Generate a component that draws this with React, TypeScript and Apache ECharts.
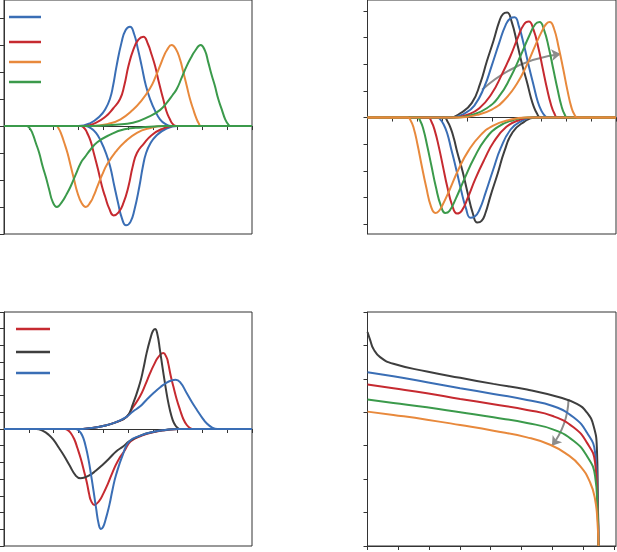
import React, { useEffect, useRef } from "react";
import * as echarts from "echarts";

// ---- colours ----
const BLUE = "#3a6eb5";
const RED = "#c62a30";
const ORANGE = "#e8893c";
const GREEN = "#3b9a4b";
const DARK = "#3e3e3e";
const ARROW = "#8c8c8c";
const AXIS = "#333333";

// ---- panel A (top-left): [x, y] pairs, upper and lower branches ----
const aBlueUp = [[0,0],[3.0,0],[3.5,0.12],[3.87,0.37],[4.1,0.65],[4.27,1.0],[4.4,1.5],[4.54,2.23],[4.74,3.1],[4.9,3.55],[5.08,3.68],[5.25,3.4],[5.4,2.85],[5.55,2.23],[5.72,1.5],[5.89,1.0],[6.1,0.55],[6.29,0.25],[6.5,0.08],[6.75,0],[10,0]];
const aBlueDown = [[0,0],[3.25,0],[3.5,-0.08],[3.71,-0.25],[3.9,-0.55],[4.11,-1.0],[4.28,-1.5],[4.45,-2.23],[4.6,-2.85],[4.75,-3.4],[4.92,-3.68],[5.1,-3.55],[5.26,-3.1],[5.46,-2.23],[5.6,-1.5],[5.73,-1.0],[5.9,-0.65],[6.13,-0.37],[6.5,-0.12],[7.0,0],[10,0]];
const aRedUp = [[0,0],[3.2,0],[3.7,0.12],[4.1,0.35],[4.4,0.65],[4.68,1.0],[4.85,1.5],[5.02,2.23],[5.22,2.84],[5.42,3.2],[5.62,3.31],[5.8,3.05],[5.95,2.65],[6.09,2.23],[6.25,1.6],[6.42,1.0],[6.55,0.55],[6.69,0.25],[6.8,0.08],[6.95,0],[10,0]];
const aRedDown = [[0,0],[3.09,0],[3.24,-0.08],[3.35,-0.25],[3.49,-0.55],[3.62,-1.0],[3.79,-1.6],[3.95,-2.23],[4.09,-2.65],[4.24,-3.05],[4.42,-3.31],[4.62,-3.2],[4.82,-2.84],[5.02,-2.23],[5.19,-1.5],[5.36,-1.0],[5.64,-0.65],[5.94,-0.35],[6.34,-0.12],[6.84,0],[10,0]];
const aOrangeUp = [[0,0],[3.6,0],[4.2,0.08],[4.7,0.25],[5.2,0.6],[5.55,0.95],[5.89,1.4],[6.1,1.8],[6.29,2.23],[6.45,2.6],[6.56,2.8],[6.76,3.0],[6.93,2.85],[7.1,2.46],[7.23,2.0],[7.37,1.48],[7.5,1.0],[7.63,0.62],[7.75,0.3],[7.85,0.1],[7.95,0],[10,0]];
const aOrangeDown = [[0,0],[2.11,0],[2.21,-0.1],[2.31,-0.3],[2.43,-0.62],[2.56,-1.0],[2.69,-1.48],[2.83,-2.0],[2.96,-2.46],[3.13,-2.85],[3.3,-3.0],[3.5,-2.8],[3.61,-2.6],[3.77,-2.23],[3.96,-1.8],[4.17,-1.4],[4.51,-0.95],[4.86,-0.6],[5.36,-0.25],[5.86,-0.08],[6.46,0],[10,0]];
const aGreenUp = [[0,0],[3.5,0],[4.5,0.05],[5.2,0.12],[5.89,0.37],[6.3,0.6],[6.56,0.86],[6.8,1.15],[6.96,1.36],[7.17,1.8],[7.37,2.23],[7.55,2.55],[7.7,2.78],[7.93,3.0],[8.1,2.8],[8.24,2.35],[8.37,1.9],[8.5,1.5],[8.64,1.0],[8.78,0.62],[8.92,0.25],[9.05,0.05],[9.15,0],[10,0]];
const aGreenDown = [[0,0],[0.91,0],[1.01,-0.05],[1.14,-0.25],[1.28,-0.62],[1.42,-1.0],[1.56,-1.5],[1.69,-1.9],[1.82,-2.35],[1.96,-2.8],[2.13,-3.0],[2.36,-2.78],[2.51,-2.55],[2.69,-2.23],[2.89,-1.8],[3.1,-1.36],[3.26,-1.15],[3.5,-0.86],[3.76,-0.6],[4.17,-0.37],[4.86,-0.12],[5.56,-0.05],[6.56,0],[10,0]];

// ---- panel B (top-right) ----
const bDarkUp = [[0,0],[3.3,0],[3.75,0.17],[4.2,0.55],[4.54,1.29],[4.8,2.1],[5.08,2.91],[5.3,3.6],[5.45,3.88],[5.62,3.94],[5.8,3.6],[6.02,2.79],[6.22,2.0],[6.43,1.29],[6.56,0.8],[6.69,0.41],[6.82,0.15],[6.96,0],[10,0]];
const bDarkDown = [[0,0],[3.08,0],[3.22,-0.15],[3.35,-0.41],[3.48,-0.8],[3.61,-1.29],[3.82,-2.0],[4.02,-2.79],[4.24,-3.6],[4.42,-3.94],[4.59,-3.88],[4.74,-3.6],[4.96,-2.91],[5.24,-2.1],[5.5,-1.29],[5.84,-0.55],[6.29,-0.17],[6.74,0],[10,0]];
const bBlueUp = [[0,0],[3.4,0],[3.9,0.15],[4.3,0.45],[4.7,1.15],[5.0,1.95],[5.3,2.8],[5.55,3.45],[5.75,3.72],[5.92,3.76],[6.1,3.4],[6.3,2.7],[6.5,1.9],[6.7,1.15],[6.85,0.6],[7.0,0.25],[7.15,0.05],[7.25,0],[10,0]];
const bBlueDown = [[0,0],[2.81,0],[2.91,-0.05],[3.06,-0.25],[3.21,-0.6],[3.36,-1.15],[3.56,-1.9],[3.76,-2.7],[3.96,-3.4],[4.14,-3.76],[4.31,-3.72],[4.51,-3.45],[4.76,-2.8],[5.06,-1.95],[5.36,-1.15],[5.76,-0.45],[6.16,-0.15],[6.66,0],[10,0]];
const bRedUp = [[0,0],[3.5,0],[4.0,0.1],[4.5,0.35],[5.0,0.9],[5.4,1.6],[5.75,2.3],[6.05,3.0],[6.3,3.5],[6.49,3.6],[6.68,3.3],[6.88,2.6],[7.05,1.85],[7.22,1.1],[7.38,0.5],[7.52,0.15],[7.65,0],[10,0]];
const bRedDown = [[0,0],[2.44,0],[2.57,-0.15],[2.71,-0.5],[2.87,-1.1],[3.04,-1.85],[3.21,-2.6],[3.41,-3.3],[3.6,-3.6],[3.79,-3.5],[4.04,-3.0],[4.34,-2.3],[4.69,-1.6],[5.09,-0.9],[5.59,-0.35],[6.09,-0.1],[6.59,0],[10,0]];
const bGreenUp = [[0,0],[3.6,0],[4.2,0.1],[4.8,0.35],[5.3,0.8],[5.75,1.5],[6.15,2.3],[6.5,3.05],[6.75,3.5],[6.92,3.58],[7.1,3.3],[7.3,2.6],[7.48,1.8],[7.65,1.05],[7.8,0.45],[7.93,0.12],[8.05,0],[10,0]];
const bGreenDown = [[0,0],[2.0,0],[2.12,-0.12],[2.25,-0.45],[2.4,-1.05],[2.57,-1.8],[2.75,-2.6],[2.95,-3.3],[3.13,-3.58],[3.3,-3.5],[3.55,-3.05],[3.9,-2.3],[4.3,-1.5],[4.75,-0.8],[5.25,-0.35],[5.85,-0.1],[6.45,0],[10,0]];
const bOrangeUp = [[0,0],[3.7,0],[4.4,0.1],[5.0,0.3],[5.5,0.65],[6.0,1.25],[6.4,1.95],[6.75,2.7],[7.05,3.3],[7.2,3.52],[7.33,3.58],[7.5,3.35],[7.7,2.6],[7.88,1.8],[8.05,1.0],[8.2,0.4],[8.33,0.1],[8.45,0],[10,0]];
const bOrangeDown = [[0,0],[1.61,0],[1.73,-0.1],[1.86,-0.4],[2.01,-1.0],[2.18,-1.8],[2.36,-2.6],[2.56,-3.35],[2.73,-3.58],[2.86,-3.52],[3.01,-3.3],[3.31,-2.7],[3.66,-1.95],[4.06,-1.25],[4.56,-0.65],[5.06,-0.3],[5.66,-0.1],[6.36,0],[10,0]];
const bArrow = [[4.61,1.04],[7.77,2.38]];

// ---- panel C (bottom-left) ----
const cRedUp = [[0,0],[3.0,0],[3.5,0.06],[4.0,0.18],[4.5,0.4],[4.95,0.74],[5.2,1.3],[5.48,1.94],[5.7,2.65],[5.89,3.34],[6.05,3.85],[6.22,4.3],[6.42,4.54],[6.55,4.3],[6.62,3.94],[6.72,3.2],[6.83,2.54],[6.96,1.8],[7.1,1.14],[7.23,0.6],[7.37,0.24],[7.5,0.05],[7.6,0],[10,0]];
const cRedDown = [[0,0],[2.46,0],[2.56,-0.05],[2.69,-0.24],[2.83,-0.6],[2.96,-1.14],[3.1,-1.8],[3.23,-2.54],[3.34,-3.2],[3.44,-3.94],[3.51,-4.3],[3.64,-4.54],[3.84,-4.3],[4.01,-3.85],[4.17,-3.34],[4.36,-2.65],[4.58,-1.94],[4.86,-1.3],[5.11,-0.74],[5.56,-0.4],[6.06,-0.18],[6.56,-0.06],[7.06,0],[10,0]];
const cDarkUp = [[0,0],[3.0,0],[3.5,0.06],[4.0,0.18],[4.5,0.4],[4.95,0.74],[5.2,1.5],[5.48,2.74],[5.62,3.6],[5.75,4.54],[5.9,5.4],[6.0,5.85],[6.09,5.98],[6.18,5.7],[6.29,4.7],[6.39,3.7],[6.49,2.74],[6.59,1.85],[6.69,1.14],[6.8,0.55],[6.9,0.24],[7.0,0.07],[7.1,0],[10,0]];
const cDarkDown = [[0,0],[1.3,0],[1.55,-0.1],[1.8,-0.34],[2.02,-0.7],[2.22,-1.14],[2.42,-1.6],[2.63,-2.14],[2.9,-2.8],[3.08,-2.94],[3.25,-2.9],[3.44,-2.78],[3.7,-2.5],[3.98,-2.14],[4.25,-1.75],[4.52,-1.34],[4.8,-1.05],[5.05,-0.74],[5.5,-0.4],[6.0,-0.18],[6.5,-0.06],[7.0,0],[10,0]];
const cBlueUp = [[0,0],[3.0,0],[3.5,0.06],[4.0,0.18],[4.5,0.4],[4.95,0.74],[5.2,1.05],[5.48,1.34],[5.75,1.75],[6.02,2.14],[6.3,2.5],[6.56,2.78],[6.75,2.9],[6.92,2.94],[7.1,2.8],[7.37,2.14],[7.58,1.6],[7.78,1.14],[7.98,0.7],[8.17,0.34],[8.38,0.1],[8.6,0],[10,0]];
const cBlueDown = [[0,0],[2.9,0],[3.0,-0.07],[3.1,-0.24],[3.2,-0.55],[3.31,-1.14],[3.41,-1.85],[3.51,-2.74],[3.61,-3.7],[3.71,-4.7],[3.82,-5.7],[3.91,-5.98],[4.0,-5.85],[4.1,-5.4],[4.25,-4.54],[4.38,-3.6],[4.52,-2.74],[4.8,-1.5],[5.05,-0.74],[5.5,-0.4],[6.0,-0.18],[6.5,-0.06],[7.0,0],[10,0]];

// ---- panel D (bottom-right) ----
const dDark = [[0,6.4],[0.09,6.15],[0.19,5.9],[0.41,5.65],[0.84,5.45],[1.93,5.22],[3.01,5.03],[4.09,4.85],[5.18,4.68],[6.26,4.44],[6.8,4.25],[7.12,4.0],[7.34,3.6],[7.45,2.9],[7.48,1.5],[7.5,0]];
const dBlue = [[0,5.2],[0.84,5.08],[1.93,4.9],[3.01,4.72],[4.09,4.55],[5.18,4.37],[6.04,4.18],[6.69,3.85],[7.12,3.4],[7.39,2.8],[7.47,1.5],[7.5,0]];
const dRed = [[0,4.83],[0.84,4.72],[1.93,4.57],[3.01,4.4],[4.09,4.24],[5.18,4.07],[6.04,3.88],[6.69,3.55],[7.12,3.1],[7.39,2.5],[7.47,1.3],[7.5,0]];
const dGreen = [[0,4.38],[0.84,4.28],[1.93,4.15],[3.01,4.0],[4.09,3.85],[5.18,3.68],[6.04,3.48],[6.69,3.15],[7.12,2.7],[7.39,2.1],[7.47,1.1],[7.5,0]];
const dOrange = [[0,4.02],[0.84,3.92],[1.93,3.78],[3.01,3.62],[4.09,3.45],[5.18,3.25],[5.93,3.03],[6.47,2.75],[6.9,2.4],[7.23,1.9],[7.39,1.4],[7.47,0.7],[7.5,0]];
const dArrow = [[6.53,4.4],[5.99,3.0]];

// ---- tick values ----
const ticksX10 = [0,1,2,3,4,5,6,7,8,9,10];
const ticksX8 = [0,1,2,3,4,5,6,7,8];
const ticksYA = [-4,-3,-2,-1,0,1,2,3,4];
const ticksYB = [-4,-3,-2,-1,0,1,2,3,4];
const ticksYC = [-7,-6,-5,-4,-3,-2,-1,0,1,2,3,4,5,6,7];
const ticksYD = [0,1,2,3,4,5,6,7];

function axis(idx: number, min: number, max: number, ticks: number[]) {
  return {
    type: "value",
    gridIndex: idx,
    min,
    max,
    axisLine: { show: true, lineStyle: { color: AXIS, width: 1 } },
    axisTick: { show: true, length: 4, lineStyle: { color: AXIS, width: 1 }, customValues: ticks },
    axisLabel: { show: false },
    splitLine: { show: false },
  };
}

function line(idx: number, data: number[][], color: string) {
  return {
    type: "line",
    xAxisIndex: idx,
    yAxisIndex: idx,
    data,
    showSymbol: false,
    symbol: "none",
    smooth: true,
    lineStyle: { color, width: 2 },
    silent: true,
  };
}

function arrow(idx: number, coords: number[][]) {
  return {
    type: "lines",
    coordinateSystem: "cartesian2d",
    xAxisIndex: idx,
    yAxisIndex: idx,
    symbol: ["none", "arrow"],
    symbolSize: 9,
    lineStyle: { color: ARROW, width: 2, curveness: 0.16, opacity: 1 },
    data: [{ coords }],
    silent: true,
  };
}

function legendLine(x1: number, x2: number, y: number, color: string) {
  return { type: "line", shape: { x1, y1: y, x2, y2: y }, style: { stroke: color, lineWidth: 2.5 }, silent: true };
}

export default function App() {
  const ref = useRef<HTMLDivElement>(null);
  useEffect(() => {
    if (!ref.current) return;
    const chart = echarts.init(ref.current, undefined, { renderer: "svg" });
    const gridBase = { show: true, borderColor: AXIS, borderWidth: 1, backgroundColor: "#fff", containLabel: false, outerBoundsMode: "none" };
    chart.setOption({
      animation: false,
      backgroundColor: "#ffffff",
      grid: [
        { ...gridBase, left: 4, top: 0, right: 365, bottom: 318 },
        { ...gridBase, left: 367.5, top: 0, right: 1, bottom: 318 },
        { ...gridBase, left: 4, top: 312, right: 365, bottom: 6 },
        { ...gridBase, left: 367.5, top: 312, right: 1, bottom: 6 },
      ],
      xAxis: [
        axis(0, 0, 10, ticksX10),
        axis(1, 0, 10, ticksX10),
        axis(2, 0, 10, ticksX10),
        axis(3, 0, 8.07, ticksX8),
      ],
      yAxis: [
        axis(0, -4, 4.67, ticksYA),
        axis(1, -4.37, 4.41, ticksYB),
        axis(2, -7, 7, ticksYC),
        axis(3, 0, 7, ticksYD),
      ],
      series: [
        line(0, aBlueUp, BLUE), line(0, aBlueDown, BLUE),
        line(0, aRedUp, RED), line(0, aRedDown, RED),
        line(0, aOrangeUp, ORANGE), line(0, aOrangeDown, ORANGE),
        line(0, aGreenUp, GREEN), line(0, aGreenDown, GREEN),

        line(1, bDarkUp, DARK), line(1, bDarkDown, DARK),
        line(1, bBlueUp, BLUE), line(1, bBlueDown, BLUE),
        line(1, bRedUp, RED), line(1, bRedDown, RED),
        line(1, bGreenUp, GREEN), line(1, bGreenDown, GREEN),
        line(1, bOrangeUp, ORANGE), line(1, bOrangeDown, ORANGE),
        arrow(1, bArrow),

        line(2, cRedUp, RED), line(2, cRedDown, RED),
        line(2, cDarkUp, DARK), line(2, cDarkDown, DARK),
        line(2, cBlueUp, BLUE), line(2, cBlueDown, BLUE),

        line(3, dDark, DARK),
        line(3, dBlue, BLUE),
        line(3, dRed, RED),
        line(3, dGreen, GREEN),
        line(3, dOrange, ORANGE),
        arrow(3, dArrow),
      ],
      graphic: [
        legendLine(9, 41, 17, BLUE),
        legendLine(9, 41, 42, RED),
        legendLine(9, 41, 62, ORANGE),
        legendLine(9, 41, 82, GREEN),
        legendLine(16, 50, 329, RED),
        legendLine(16, 50, 352, DARK),
        legendLine(16, 50, 373, BLUE),
      ],
    });
    return () => chart.dispose();
  }, []);
  return (
    <div
      ref={ref}
      style={{ position: "absolute", left: 0, top: 0, width: 617, height: 552, background: "#fff" }}
    />
  );
}
